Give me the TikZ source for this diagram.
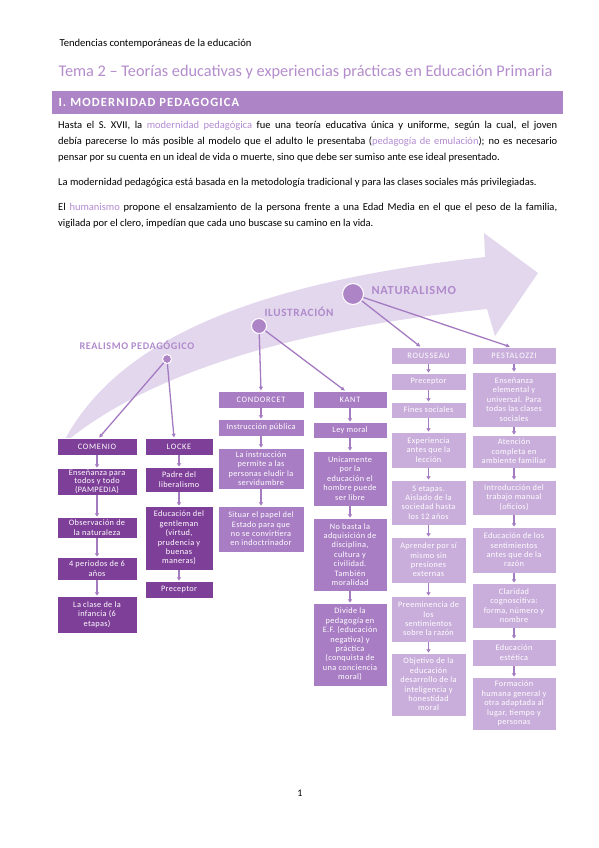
\documentclass[tikz,border=0pt]{standalone}
\usepackage{fontspec}
\setmainfont{Carlito}
\newfontfamily\espaciada[LetterSpace=6]{Carlito}
\newfontfamily\cajafont[LetterSpace=4]{Carlito}
\newfontfamily\titularfont[LetterSpace=9]{Carlito}
\usepackage{xcolor}
\usepackage{tikz}
\usetikzlibrary{arrows.meta}

\definecolor{titulo}{HTML}{B48CCB}
\definecolor{barra}{HTML}{AD84C6}
\definecolor{resalte}{HTML}{B28AD0}
\definecolor{banda}{HTML}{E3D7EE}
\definecolor{etiq}{HTML}{B08ACB}
\definecolor{conector}{HTML}{A47BC1}
\definecolor{moradoOsc}{HTML}{7E3F98}
\definecolor{moradoMed}{HTML}{A87DC3}
\definecolor{moradoCla}{HTML}{C9AEDB}

\tikzset{
  caja/.style={draw=white, line width=0.5pt, text=white, align=center, inner sep=0.5pt,
    font=\cajafont\fontsize{8.3}{9.4}\selectfont},
  oscura/.style={caja, fill=moradoOsc},
  media/.style={caja, fill=moradoMed},
  clara/.style={caja, fill=moradoCla},
  titular/.style={font=\titularfont\fontsize{8.3}{9}\selectfont},
  flecha/.style={-{Latex[length=4pt,width=4.5pt]}, draw=conector, line width=1.3pt},
  circulo/.style={circle, fill=barra, draw=white, line width=1pt, inner sep=0pt},
  etiqueta/.style={anchor=west, text=etiq, font=\espaciada\bfseries\fontsize{#1}{14}\selectfont},
  parrafo/.style={anchor=north west, text width=499pt, align=justify, inner sep=0pt,
    font=\fontsize{10.5}{15.7}\selectfont},
}

\begin{document}
\begin{tikzpicture}[x=1pt, y=-1pt, >=latex]
  \useasboundingbox (0,0) rectangle (599,848);
  % Header and title
  \node[anchor=west, font=\fontsize{10.6}{12}\selectfont] (cabecera) at (56,44) {Tendencias contemporáneas de la educación};
  \node[anchor=west, text=titulo, font=\fontsize{16.3}{19}\selectfont] (tema) at (55,72)
    {Tema 2 – Teorías educativas y experiencias prácticas en Educación Primaria};
  \fill[barra] (52,91) rectangle (563,114);
  \node[anchor=west, text=white, font=\titularfont\bfseries\fontsize{12.5}{14}\selectfont] (seccion) at (55,102.5)
    {I. MODERNIDAD PEDAGOGICA};
  % Paragraphs
  \node[parrafo] (parrafo1) at (58,121.5)
    {Hasta el S. XVII, la \textcolor{resalte}{modernidad pedagógica} fue una teoría educativa única y uniforme, según la cual, el joven\linebreak
     debía parecerse lo más posible al modelo que el adulto le presentaba (\textcolor{resalte}{pedagogía de emulación}); no es necesario\linebreak
     pensar por su cuenta en un ideal de vida o muerte, sino que debe ser sumiso ante ese ideal presentado.};
  \node[parrafo] (parrafo2) at (58,178.5)
    {\parfillskip=0pt La modernidad pedagógica está basada en la metodología tradicional y para las clases sociales más privilegiadas.};
  \node[parrafo] (parrafo3) at (58,203.5)
    {El \textcolor{resalte}{humanismo} propone el ensalzamiento de la persona frente a una Edad Media en el que el peso de la familia,\linebreak
     vigilada por el clero, impedían que cada uno buscase su camino en la vida.};

  % Big arrow
  \fill[banda] (62,445) .. controls (110,350) and (230,285) .. (485,257)
    -- (484,233) -- (538,273) -- (495,336) -- (487,309)
    .. controls (330,325) and (160,362) .. (62,445) -- cycle;

  % Periods
  \node[etiqueta=10.2] (lblrealismo) at (76,345) {REALISMO PEDAGÓGICO};
  \node[etiqueta=11.2] (lblilustracion) at (261,312) {ILUSTRACIÓN};
  \node[etiqueta=12.4] (lblnaturalismo) at (368,290) {NATURALISMO};
  \node[circulo, minimum size=9pt] (realismo) at (167,359) {};
  \node[circulo, minimum size=15pt] (ilustracion) at (259,326) {};
  \node[circulo, minimum size=21pt] (naturalismo) at (353,294) {};

  % Comenio
  \node[oscura, minimum width=80pt, minimum height=17pt, titular] (comenio) at (97,446.5) {COMENIO};
  \node[oscura, minimum width=80pt, minimum height=27pt, font=\cajafont\fontsize{8.3}{8.7}\selectfont] (com1) at (97,481.5) {Enseñanza para\\todos y todo\\(PAMPEDIA)};
  \node[oscura, minimum width=80pt, minimum height=21pt] (com2) at (97,527.5) {Observación de\\la naturaleza};
  \node[oscura, minimum width=80pt, minimum height=23pt] (com3) at (97,568.5) {4 periodos de 6\\años};
  \node[oscura, minimum width=80pt, minimum height=37pt] (com4) at (97,614.5) {La clase de la\\infancia (6\\etapas)};
  % Locke
  \node[oscura, minimum width=68pt, minimum height=17pt, titular] (locke) at (179,446.5) {LOCKE};
  \node[oscura, minimum width=68pt, minimum height=25pt] (loc1) at (179,479.5) {Padre del\\liberalismo};
  \node[oscura, minimum width=68pt, minimum height=64pt] (loc2) at (179,538) {Educación del\\gentleman\\(virtud,\\prudencia y\\buenas\\maneras)};
  \node[oscura, minimum width=68pt, minimum height=17pt] (loc3) at (179,589.5) {Preceptor};
  % Condorcet
  \node[media, minimum width=86pt, minimum height=17pt, titular] (condorcet) at (261,399.5) {CONDORCET};
  \node[media, minimum width=86pt, minimum height=17pt] (con1) at (261,427.5) {Instrucción pública};
  \node[media, minimum width=86pt, minimum height=41pt] (con2) at (261,468.5) {La instrucción\\permite a las\\personas eludir la\\servidumbre};
  \node[media, minimum width=86pt, minimum height=46pt] (con3) at (261,529) {Situar el papel del\\Estado para que\\no se convirtiera\\en indoctrinador};
  % Kant
  \node[media, minimum width=74pt, minimum height=17pt, titular] (kant) at (350,399.5) {KANT};
  \node[media, minimum width=74pt, minimum height=16pt] (kan1) at (350,430) {Ley moral};
  \node[media, minimum width=74pt, minimum height=55pt] (kan2) at (350,478.5) {Unicamente\\por la\\educación el\\hombre puede\\ser libre};
  \node[media, minimum width=74pt, minimum height=73pt] (kan3) at (350,554.5) {No basta la\\adquisición de\\disciplina,\\cultura y\\civilidad.\\También\\moralidad};
  \node[media, minimum width=74pt, minimum height=83pt] (kan4) at (350,644.5) {Divide la\\pedagogía en\\E.F. (educación\\negativa) y\\práctica\\(conquista de\\una conciencia\\moral)};
  % Rousseau
  \node[clara, minimum width=75pt, minimum height=17pt, titular] (rousseau) at (428.5,355.5) {ROUSSEAU};
  \node[clara, minimum width=75pt, minimum height=17pt] (rou1) at (428.5,381.5) {Preceptor};
  \node[clara, minimum width=75pt, minimum height=16pt] (rou2) at (428.5,410) {Fines sociales};
  \node[clara, minimum width=75pt, minimum height=36pt] (rou3) at (428.5,450) {Experiencia\\antes que la\\lección};
  \node[clara, minimum width=75pt, minimum height=45pt] (rou4) at (428.5,502.5) {5 etapas.\\Aislado de la\\sociedad hasta\\los 12 años};
  \node[clara, minimum width=75pt, minimum height=46pt] (rou5) at (428.5,560) {Aprender por sí\\mismo sin\\presiones\\externas};
  \node[clara, minimum width=75pt, minimum height=46pt] (rou6) at (428.5,619) {Preeminencia de\\los\\sentimientos\\sobre la razón};
  \node[clara, minimum width=75pt, minimum height=63pt] (rou7) at (428.5,684.5) {Objetivo de la\\educación\\desarrollo de la\\inteligencia y\\honestidad\\moral};
  % Pestalozzi
  \node[clara, minimum width=84pt, minimum height=17pt, titular] (pestalozzi) at (514,355.5) {PESTALOZZI};
  \node[clara, minimum width=84pt, minimum height=55pt] (pes1) at (514,399.5) {Enseñanza\\elemental y\\universal. Para\\todas las clases\\sociales};
  \node[clara, minimum width=84pt, minimum height=33pt] (pes2) at (514,451.5) {Atención\\completa en\\ambiente familiar};
  \node[clara, minimum width=84pt, minimum height=35pt] (pes3) at (514,497.5) {Introducción del\\trabajo manual\\(oficios)};
  \node[clara, minimum width=84pt, minimum height=46pt] (pes4) at (514,550) {Educación de los\\sentimientos\\antes que de la\\razón};
  \node[clara, minimum width=84pt, minimum height=45pt] (pes5) at (514,605.5) {Claridad\\cognoscitiva:\\forma, número y\\nombre};
  \node[clara, minimum width=84pt, minimum height=27pt] (pes6) at (514,652.5) {Educación\\estética};
  \node[clara, minimum width=84pt, minimum height=53pt] (pes7) at (514,703.5) {Formación\\humana general y\\otra adaptada al\\lugar, tiempo y\\personas};

  % Connectors from the periods
  \draw[flecha] (realismo) -- ([xshift=2pt]comenio.north);
  \draw[flecha] (realismo) -- ([xshift=-5pt]locke.north);
  \draw[flecha] (ilustracion) -- (condorcet.north);
  \draw[flecha] (ilustracion) -- ([xshift=-5pt]kant.north);
  \draw[flecha] (naturalismo) -- ([xshift=-8pt]rousseau.north);
  \draw[flecha] (naturalismo) -- ([xshift=-4pt]pestalozzi.north);
  % Chains
  \foreach \a/\b in {comenio/com1, com1/com2, com2/com3, com3/com4,
                     locke/loc1, loc1/loc2, loc2/loc3,
                     condorcet/con1, con1/con2, con2/con3,
                     kant/kan1, kan1/kan2, kan2/kan3, kan3/kan4,
                     rousseau/rou1, rou1/rou2, rou2/rou3, rou3/rou4, rou4/rou5, rou5/rou6, rou6/rou7,
                     pestalozzi/pes1, pes1/pes2, pes2/pes3, pes3/pes4, pes4/pes5, pes5/pes6, pes6/pes7}
      \draw[flecha, -{Latex[length=3.5pt,width=5pt]}] (\a.south) -- (\b.north);

  % Page number
  \node[font=\fontsize{10}{11}\selectfont] (pagina) at (300,793) {1};
\end{tikzpicture}
\end{document}
